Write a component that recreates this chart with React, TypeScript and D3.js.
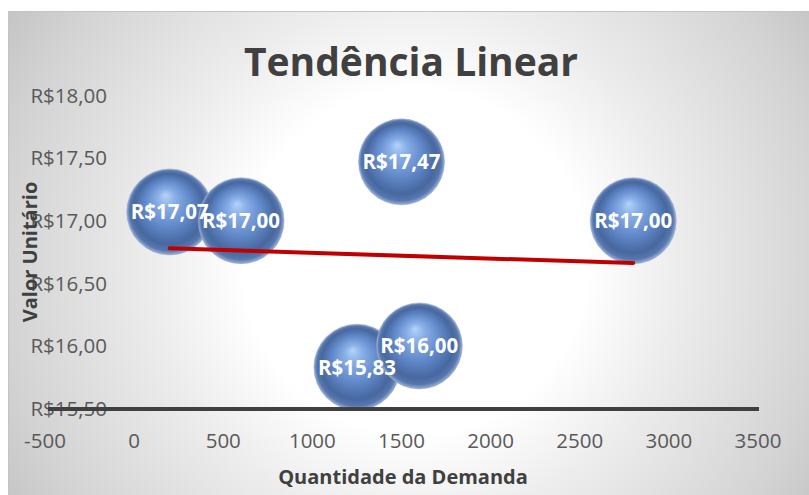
import { useRef, useEffect } from 'react';
import * as d3 from 'd3';

const DEMAND = [200, 600, 1250, 1500, 1600, 2800];
const UNIT_PRICE = [17.07, 17.0, 15.83, 17.47, 16.0, 17.0];
const BUBBLE_SIZE = [1, 1, 1, 1, 1, 1];
const X_TICKS = [-500, 0, 500, 1000, 1500, 2000, 2500, 3000, 3500];
const Y_TICKS = [15.5, 16, 16.5, 17, 17.5, 18];

const WIDTH = 809;
const HEIGHT = 495;
const FONT = "'Open Sans', 'DejaVu Sans', sans-serif";

const ptBR = d3.formatLocale({
  decimal: ',',
  thousands: '.',
  grouping: [3],
  currency: ['R$', ''],
});
const money = ptBR.format('$.2f');

export default function App() {
  const svgRef = useRef<SVGSVGElement>(null);

  useEffect(() => {
    if (!svgRef.current) return;
    const svg = d3.select(svgRef.current);
    svg.selectAll('*').remove();

    const x = d3.scaleLinear().domain([-500, 3500]).range([45, 758]);
    const y = d3.scaleLinear().domain([15.5, 18]).range([408.5, 95.5]);
    const r = d3
      .scaleSqrt()
      .domain([0, d3.max(BUBBLE_SIZE) || 1])
      .range([0, 43]);

    const defs = svg.append('defs');

    // chart area background: radial white -> gray
    const bg = defs
      .append('radialGradient')
      .attr('id', 'bgGrad')
      .attr('gradientUnits', 'userSpaceOnUse')
      .attr('cx', 415)
      .attr('cy', 262)
      .attr('r', 475);
    [
      [0, '#ffffff'],
      [0.36, '#ffffff'],
      [0.55, '#ededed'],
      [0.87, '#d3d3d3'],
      [1, '#c5c5c5'],
    ].forEach(([o, c]) =>
      bg.append('stop').attr('offset', o as number).attr('stop-color', c as string)
    );

    // 3D bubble shading
    const bub = defs
      .append('radialGradient')
      .attr('id', 'bubbleGrad')
      .attr('cx', 0.5)
      .attr('cy', 0.5)
      .attr('r', 0.5)
      .attr('fx', 0.45)
      .attr('fy', 0.3);
    [
      [0, '#b6d3f8'],
      [0.2, '#8ab0e8'],
      [0.55, '#6087c8'],
      [0.82, '#47689f'],
      [0.93, '#5777ae'],
      [1, '#9db3d8'],
    ].forEach(([o, c]) =>
      bub.append('stop').attr('offset', o as number).attr('stop-color', c as string)
    );

    svg
      .append('rect')
      .attr('x', 8.5)
      .attr('y', 11.5)
      .attr('width', WIDTH - 8)
      .attr('height', HEIGHT - 11)
      .attr('fill', 'url(#bgGrad)')
      .attr('stroke', '#c4c4c4')
      .attr('stroke-width', 1);

    // Title
    svg
      .append('text')
      .attr('x', 411)
      .attr('y', 76)
      .attr('text-anchor', 'middle')
      .attr('font-family', FONT)
      .attr('font-size', 39)
      .attr('font-weight', 'bold')
      .attr('fill', '#404040')
      .text('Tendência Linear');

    // Y tick labels
    svg
      .append('g')
      .selectAll('text')
      .data(Y_TICKS)
      .join('text')
      .attr('x', 107)
      .attr('y', (d) => y(d))
      .attr('dy', '0.36em')
      .attr('text-anchor', 'end')
      .attr('font-family', FONT)
      .attr('font-size', 20.5)
      .attr('fill', '#595959')
      .text((d) => money(d));

    // X tick labels
    svg
      .append('g')
      .selectAll('text')
      .data(X_TICKS)
      .join('text')
      .attr('x', (d) => x(d))
      .attr('y', 448)
      .attr('text-anchor', 'middle')
      .attr('font-family', FONT)
      .attr('font-size', 20.5)
      .attr('fill', '#595959')
      .text((d) => String(d));

    // Axis titles
    svg
      .append('text')
      .attr('x', 403)
      .attr('y', 484)
      .attr('text-anchor', 'middle')
      .attr('font-family', FONT)
      .attr('font-size', 20)
      .attr('font-weight', 'bold')
      .attr('fill', '#404040')
      .text('Quantidade da Demanda');

    svg
      .append('text')
      .attr('transform', 'translate(37,252) rotate(-90)')
      .attr('text-anchor', 'middle')
      .attr('font-family', FONT)
      .attr('font-size', 20)
      .attr('font-weight', 'bold')
      .attr('fill', '#404040')
      .text('Valor Unitário');

    const points = DEMAND.map((d, i) => ({
      x: d,
      y: UNIT_PRICE[i],
      s: BUBBLE_SIZE[i],
    }));

    // Bubbles
    svg
      .append('g')
      .selectAll('circle')
      .data(points)
      .join('circle')
      .attr('cx', (d) => x(d.x))
      .attr('cy', (d) => y(d.y))
      .attr('r', (d) => r(d.s))
      .attr('fill', 'url(#bubbleGrad)')
      .attr('stroke', 'rgba(130,150,190,0.45)')
      .attr('stroke-width', 1);

    // Linear trend (least squares)
    const mx = d3.mean(DEMAND) || 0;
    const my = d3.mean(UNIT_PRICE) || 0;
    const sxy = d3.sum(DEMAND, (d, i) => (d - mx) * (UNIT_PRICE[i] - my));
    const sxx = d3.sum(DEMAND, (d) => (d - mx) ** 2);
    const slope = sxy / sxx;
    const intercept = my - slope * mx;
    const [x0, x1] = d3.extent(DEMAND) as [number, number];
    svg
      .append('path')
      .attr(
        'd',
        d3.line<number>()
          .x((d) => x(d))
          .y((d) => y(intercept + slope * d))([x0, x1])
      )
      .attr('stroke', '#c00000')
      .attr('stroke-width', 4)
      .attr('stroke-linecap', 'round')
      .attr('fill', 'none');

    // Data labels
    svg
      .append('g')
      .selectAll('text')
      .data(points)
      .join('text')
      .attr('x', (d) => x(d.x))
      .attr('y', (d) => y(d.y))
      .attr('dy', '0.36em')
      .attr('text-anchor', 'middle')
      .attr('font-family', FONT)
      .attr('font-size', 20.5)
      .attr('font-weight', 'bold')
      .attr('fill', '#ffffff')
      .text((d) => money(d.y));

    // Horizontal axis line
    svg
      .append('line')
      .attr('x1', x.range()[0] + 3)
      .attr('x2', x.range()[1] + 1)
      .attr('y1', y(15.5) + 0.5)
      .attr('y2', y(15.5) + 0.5)
      .attr('stroke', '#404040')
      .attr('stroke-width', 4);
  }, []);

  return (
    <svg
      ref={svgRef}
      width={WIDTH}
      height={HEIGHT}
      style={{ position: 'absolute', left: 0, top: 0 }}
    />
  );
}
